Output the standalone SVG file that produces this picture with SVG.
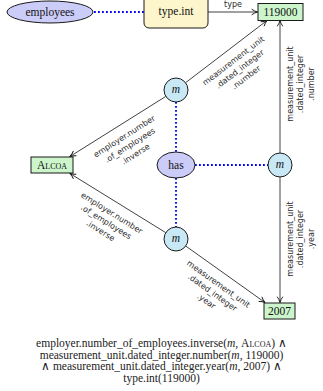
<svg xmlns="http://www.w3.org/2000/svg" width="323" height="391" viewBox="0 0 323 391">
<style>
.nl{font-family:"Liberation Serif","Times New Roman",serif;font-size:11.5px;fill:#111;text-anchor:middle}
.el{font-family:"DejaVu Sans",sans-serif;font-size:8px;fill:#2a2a2a;text-anchor:middle}
.fm{font-family:"Liberation Serif","Times New Roman",serif;font-size:11.5px;fill:#222;text-anchor:middle}
.stroke{stroke:#1a1a1a;stroke-width:1}
.blue{fill:#ccccf8}
.cyan{fill:#c8e8f6}
.green{fill:#ccf5cc}
.yellow{fill:#fdf5cc}
.arr{stroke:#111;stroke-width:0.8;fill:none;marker-end:url(#ah)}
.dot{stroke:#0000ff;stroke-width:1.8;stroke-dasharray:1.8 2.2;fill:none}
.it{font-style:italic}
.sc{font-variant:small-caps}
</style>
<defs>
<marker id="ah" markerUnits="userSpaceOnUse" markerWidth="8" markerHeight="8" viewBox="0 0 8 8" refX="7" refY="4" orient="auto">
<path d="M1.2,1.2 Q4,3.2 7,4 Q4,4.8 1.2,6.8" fill="none" stroke="#111" stroke-width="0.9"/>
</marker>
</defs>

<g id="connectors">
<line class="dot" x1="94" y1="12" x2="144" y2="12"/>
<line class="dot" x1="176" y1="102" x2="176" y2="152"/>
<line class="dot" x1="176" y1="178" x2="176" y2="227"/>
<line class="dot" x1="195" y1="165" x2="268" y2="165"/>
<line class="arr" x1="208" y1="12" x2="257.5" y2="12"/>
<line class="arr" x1="185.6" y1="82.7" x2="267" y2="20.5"/>
<line class="arr" x1="165.8" y1="96.4" x2="70" y2="156.5"/>
<line class="arr" x1="165.8" y1="232.7" x2="70" y2="173.5"/>
<line class="arr" x1="185.7" y1="246" x2="265" y2="302.5"/>
<line class="arr" x1="280" y1="153" x2="280" y2="20.5"/>
<line class="arr" x1="280" y1="177" x2="280" y2="302.5"/>
<text class="el" x="233" y="7">type</text>
<g transform="translate(239.6,68.9) rotate(-37.3)">
<text class="el" x="0" y="-7.6">measurement_unit</text>
<text class="el" x="0" y="2.9">.dated_integer</text>
<text class="el" x="0" y="13.4">.number</text>
</g>
<g transform="translate(129.8,145.1) rotate(-32.4)">
<text class="el" x="0" y="-7.6">employer.number</text>
<text class="el" x="0" y="2.9">.of_employees</text>
<text class="el" x="0" y="13.4">.inverse</text>
</g>
<g transform="translate(106.3,221.7) rotate(32)">
<text class="el" x="0" y="-7.6">employer.number</text>
<text class="el" x="0" y="2.9">.of_employees</text>
<text class="el" x="0" y="13.4">.inverse</text>
</g>
<g transform="translate(212.6,292.4) rotate(35.5)">
<text class="el" x="0" y="-7.6">measurement_unit</text>
<text class="el" x="0" y="2.9">.dated_integer</text>
<text class="el" x="0" y="13.4">.year</text>
</g>
<g transform="translate(300.5,84) rotate(-90)">
<text class="el" x="0" y="-7.6">measurement_unit</text>
<text class="el" x="0" y="2.9">.dated_integer</text>
<text class="el" x="0" y="13.4">.number</text>
</g>
<g transform="translate(300.5,239) rotate(-90)">
<text class="el" x="0" y="-7.6">measurement_unit</text>
<text class="el" x="0" y="2.9">.dated_integer</text>
<text class="el" x="0" y="13.4">.year</text>
</g>
</g>

<g id="employees">
<ellipse class="blue stroke" cx="50" cy="12" rx="43" ry="11"/>
<text class="nl" x="50" y="15.5">employees</text>
</g>
<g id="type_int">
<rect class="yellow stroke" x="144" y="-6" width="64" height="34" rx="5"/>
<text class="nl" x="176" y="15">type.int</text>
</g>
<g id="n119000">
<rect class="green stroke" x="258" y="3.5" width="45" height="17"/>
<text class="nl" x="280.5" y="16">119000</text>
</g>
<g id="m_top">
<circle class="cyan stroke" cx="176" cy="90" r="12"/>
<text class="nl it" x="176" y="93">m</text>
</g>
<g id="has">
<ellipse class="blue stroke" cx="176" cy="165" rx="19" ry="13"/>
<text class="nl" x="176" y="168.5">has</text>
</g>
<g id="m_right">
<circle class="cyan stroke" cx="280" cy="165" r="12"/>
<text class="nl it" x="280" y="168">m</text>
</g>
<g id="m_bottom">
<circle class="cyan stroke" cx="176" cy="239" r="12"/>
<text class="nl it" x="176" y="242">m</text>
</g>
<g id="alcoa">
<rect class="green stroke" x="31" y="157" width="42" height="16"/>
<text class="nl sc" x="52" y="169">Alcoa</text>
</g>
<g id="n2007">
<rect class="green stroke" x="264" y="303" width="31" height="16"/>
<text class="nl" x="279.5" y="315">2007</text>
</g>

<g id="formula">
<text class="fm" x="161.5" y="347">employer.number_of_employees.inverse(<tspan class="it">m</tspan>, <tspan class="sc">Alcoa</tspan>) ∧</text>
<text class="fm" x="161.5" y="358.5">measurement_unit.dated_integer.number(<tspan class="it">m</tspan>, 119000)</text>
<text class="fm" x="161.5" y="370">∧ measurement_unit.dated_integer.year(<tspan class="it">m</tspan>, 2007) ∧</text>
<text class="fm" x="161.5" y="381.5">type.int(119000)</text>
</g>
</svg>
